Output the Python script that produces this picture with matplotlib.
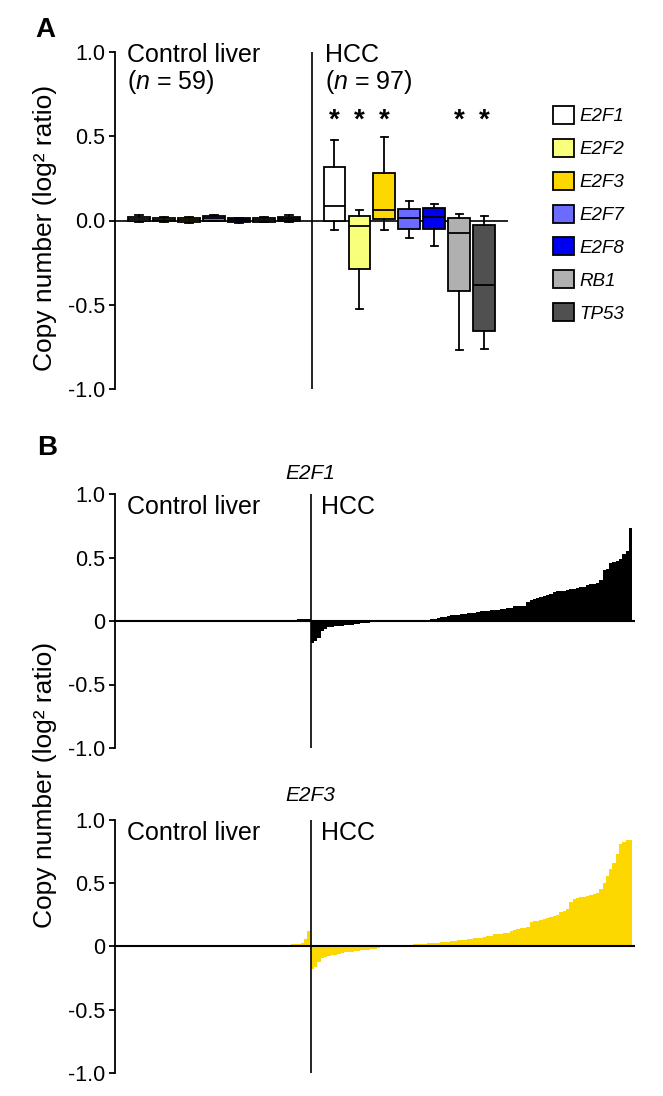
import numpy as np
import matplotlib.pyplot as plt
from matplotlib.patches import Patch

plt.rcParams['font.family'] = ['Liberation Sans', 'DejaVu Sans']
plt.rcParams['mathtext.fontset'] = 'custom'
plt.rcParams['mathtext.rm'] = 'Liberation Sans'
plt.rcParams['mathtext.it'] = 'Liberation Sans:italic'

genes = ['E2F1', 'E2F2', 'E2F3', 'E2F7', 'E2F8', 'RB1', 'TP53']
colors = ['#ffffff', '#f8ff7a', '#fdd700', '#6b6bff', '#0000f0', '#b0b0b0', '#505050']
significant = [True, True, True, False, False, True, True]

# panel A box summaries
ctrl_lo = [-0.010, -0.010, -0.012, -0.005, -0.012, -0.010, -0.008]
ctrl_q1 = [-0.005, -0.005, -0.008, 0.000, -0.008, -0.006, -0.004]
ctrl_med = [0.008, 0.005, 0.003, 0.012, 0.003, 0.005, 0.008]
ctrl_q3 = [0.018, 0.015, 0.012, 0.025, 0.012, 0.015, 0.020]
ctrl_hi = [0.030, 0.020, 0.018, 0.030, 0.016, 0.020, 0.030]

hcc_lo = [-0.058, -0.526, -0.054, -0.105, -0.149, -0.768, -0.760]
hcc_q1 = [0.000, -0.288, 0.006, -0.048, -0.052, -0.417, -0.653]
hcc_med = [0.085, -0.034, 0.063, 0.016, 0.020, -0.075, -0.383]
hcc_q3 = [0.317, 0.024, 0.280, 0.071, 0.075, 0.014, -0.028]
hcc_hi = [0.478, 0.061, 0.496, 0.115, 0.097, 0.036, 0.026]

# panel B sorted copy number per sample
ctrl_e2f1 = [0.0, 0.0, 0.0, 0.0, 0.0, 0.0, 0.0, 0.0, 0.0, 0.0,
             0.0, 0.0, 0.0, 0.0, 0.0, 0.0, 0.0, 0.0, 0.0, 0.0,
             0.0, 0.0, 0.0, 0.0, 0.0, 0.0, 0.0, 0.0, 0.0, 0.0,
             0.0, 0.0, 0.0, 0.0, 0.0, 0.0, 0.0, 0.0, 0.0, 0.0,
             0.0, 0.0, 0.0, 0.0, 0.0, 0.0,
             0.003, 0.004, 0.005, 0.006, 0.007, 0.008, 0.009, 0.010,
             0.011, 0.012, 0.013, 0.015, 0.018]
hcc_e2f1 = [-0.17, -0.16, -0.13, -0.08, -0.06,
            -0.050, -0.045, -0.042, -0.040, -0.037, -0.034, -0.031, -0.028,
            -0.025, -0.022, -0.019, -0.016, -0.013, -0.010, -0.007, -0.005,
            -0.004, -0.003, -0.002, -0.002, -0.001, -0.001, 0.0, 0.0,
            0.001, 0.001, 0.002, 0.002, 0.003, 0.004,
            0.008, 0.012, 0.015, 0.020, 0.028, 0.035,
            0.040, 0.045, 0.048, 0.050, 0.053, 0.055, 0.060, 0.063, 0.065,
            0.072, 0.075, 0.078, 0.082, 0.085, 0.087, 0.090,
            0.093, 0.096, 0.100, 0.105, 0.115, 0.117, 0.118, 0.120,
            0.150, 0.165, 0.175, 0.180, 0.190, 0.195, 0.205, 0.215, 0.230,
            0.235, 0.240, 0.240, 0.245, 0.250, 0.255, 0.260, 0.265, 0.270,
            0.280, 0.290, 0.295, 0.300, 0.320, 0.400, 0.410,
            0.460, 0.465, 0.470, 0.490, 0.530, 0.550, 0.730]
ctrl_e2f3 = [0.0, 0.0, 0.0, 0.0, 0.0, 0.0, 0.0, 0.0, 0.0, 0.0,
             0.0, 0.0, 0.0, 0.0, 0.0, 0.0, 0.0, 0.0, 0.0, 0.0,
             0.0, 0.0, 0.0, 0.0, 0.0, 0.0, 0.0, 0.0, 0.0, 0.0,
             0.0, 0.0, 0.0, 0.0, 0.0, 0.0, 0.0,
             0.002, 0.003, 0.004, 0.004, 0.005, 0.006, 0.006, 0.007, 0.008,
             0.008, 0.009, 0.010, 0.011, 0.012, 0.013, 0.014, 0.016, 0.018,
             0.020, 0.025, 0.060, 0.120]
hcc_e2f3 = [-0.18, -0.16, -0.12, -0.09, -0.08,
            -0.075, -0.070, -0.065, -0.060, -0.050, -0.045, -0.042, -0.040,
            -0.035, -0.032, -0.030, -0.027, -0.025, -0.022, -0.020, -0.015,
            -0.005, -0.002, 0.0, 0.002, 0.003,
            0.005, 0.008, 0.010, 0.012, 0.014, 0.016,
            0.018, 0.020, 0.022, 0.024, 0.026, 0.028, 0.030,
            0.033, 0.036, 0.039, 0.042, 0.045, 0.048,
            0.050, 0.053, 0.056, 0.060, 0.065, 0.068, 0.071, 0.074,
            0.080, 0.085, 0.095, 0.100, 0.100, 0.103, 0.105,
            0.125, 0.130, 0.140, 0.145, 0.150, 0.155,
            0.190, 0.200, 0.205, 0.210, 0.220, 0.225,
            0.235, 0.240, 0.250, 0.270, 0.280, 0.300,
            0.350, 0.375, 0.380, 0.390, 0.395, 0.400, 0.410, 0.415, 0.420,
            0.455, 0.500, 0.560, 0.615, 0.660, 0.735, 0.810,
            0.830, 0.840, 0.845]

W, H = 663, 1096
fig = plt.figure(figsize=(W / 100, H / 100), dpi=100)


def style_axis(ax, labels):
    for s in ['top', 'right', 'bottom']:
        ax.spines[s].set_visible(False)
    ax.spines['left'].set_linewidth(1.3)
    ax.set_ylim(-1.0, 1.0)
    ax.set_yticks([1.0, 0.5, 0.0, -0.5, -1.0])
    ax.set_yticklabels(labels, fontsize=15.5)
    ax.tick_params(axis='y', direction='out', length=4, width=1.3, pad=3)
    ax.set_xticks([])


# ---------------- panel A
axA = fig.add_axes([115 / W, 1 - 389 / H, 393 / W, 337 / H])
axA.axhline(0, color='black', lw=1.2, zorder=1)
axA.axvline(7.88, color='black', lw=1.2, zorder=1)

ctrl_pos = np.arange(7) + 0.95
hcc_pos = np.arange(7) + 8.78


def make_stats(lo, q1, med, q3, hi):
    return [dict(whislo=a, q1=b, med=c, q3=d, whishi=e, fliers=[])
            for a, b, c, d, e in zip(lo, q1, med, q3, hi)]


for st, pos in [(make_stats(ctrl_lo, ctrl_q1, ctrl_med, ctrl_q3, ctrl_hi), ctrl_pos),
                (make_stats(hcc_lo, hcc_q1, hcc_med, hcc_q3, hcc_hi), hcc_pos)]:
    bp = axA.bxp(st, positions=pos, widths=0.88, patch_artist=True,
                 showfliers=False, capwidths=0.3, zorder=3, manage_ticks=False,
                 boxprops=dict(linewidth=1.3, edgecolor='black'),
                 medianprops=dict(color='black', linewidth=1.3),
                 whiskerprops=dict(color='black', linewidth=1.3),
                 capprops=dict(color='black', linewidth=1.3))
    for patch, c in zip(bp['boxes'], colors):
        patch.set_facecolor(c)

style_axis(axA, ['1.0', '0.5', '0.0', '-0.5', '-1.0'])
axA.set_xlim(0, 15.72)

for p, sig in zip(hcc_pos, significant):
    if sig:
        axA.text(p, 0.55, '*', ha='center', va='baseline', fontsize=20,
                 fontweight='bold')

axA.text(0.48, 0.938, 'Control liver', fontsize=18, va='baseline')
axA.text(0.48, 0.783, '($\\it{n}$ = 59)', fontsize=18, va='baseline')
axA.text(8.4, 0.938, 'HCC', fontsize=18, va='baseline')
axA.text(8.4, 0.783, '($\\it{n}$ = 97)', fontsize=18, va='baseline')

handles = [Patch(facecolor=c, edgecolor='black', linewidth=1.3) for c in colors]
leg = axA.legend(handles, genes, loc='upper left', bbox_to_anchor=(1.115, 0.84),
                 frameon=False, borderaxespad=0, borderpad=0,
                 handlelength=1.1, handleheight=1.1, handletextpad=0.3,
                 labelspacing=0.72, prop=dict(size=13.5, style='italic'))

fig.text(45 / W, 1 - 228 / H, 'Copy number (log² ratio)', rotation=90,
         ha='center', va='center', fontsize=19)
fig.text(35 / W, 1 - 37 / H, 'A', fontsize=20, fontweight='bold', va='baseline')

# ---------------- panel B
n_ctrl = len(ctrl_e2f1)
for top, bottom, ctrl, hcc, col, name, title_y in [
        (494, 748, ctrl_e2f1, hcc_e2f1, 'black', 'E2F1', 1.117),
        (820, 1073, ctrl_e2f3, hcc_e2f3, '#fcd800', 'E2F3', 1.15)]:
    ax = fig.add_axes([115 / W, 1 - bottom / H, 520 / W, (bottom - top) / H])
    style_axis(ax, ['1.0', '0.5', '0', '-0.5', '-1.0'])
    vals = np.array(ctrl + hcc)
    ax.bar(np.arange(len(vals)), vals, width=1.0, align='edge', color=col,
           linewidth=0, zorder=2)
    ax.set_xlim(0, 156.8)
    ax.axhline(0, color='black', lw=1.5, zorder=3)
    ax.axvline(n_ctrl, color='black', lw=1.2, zorder=3)
    ax.text(3.6, 0.845, 'Control liver', fontsize=18, va='baseline')
    ax.text(n_ctrl + 3.2, 0.845, 'HCC', fontsize=18, va='baseline')
    ax.text(n_ctrl, title_y, name, fontsize=15, style='italic', ha='center',
            va='baseline')

fig.text(45 / W, 1 - 785 / H, 'Copy number (log² ratio)', rotation=90,
         ha='center', va='center', fontsize=19)
fig.text(37 / W, 1 - 455 / H, 'B', fontsize=20, fontweight='bold', va='baseline')

fig.savefig('out.png', dpi=100)
